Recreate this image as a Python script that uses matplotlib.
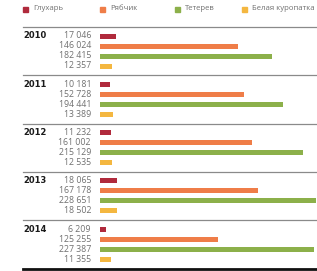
import matplotlib
matplotlib.use("Agg")
import matplotlib.pyplot as plt
from matplotlib.transforms import blended_transform_factory

years = ["2010", "2011", "2012", "2013", "2014"]
series = ["Глухарь", "Рябчик", "Тетерев", "Белая куропатка"]
gluhar = [17046, 10181, 11232, 18065, 6209]
ryabchik = [146024, 152728, 161002, 167178, 125255]
teterev = [182415, 194441, 215129, 228651, 227387]
kuropatka = [12357, 13389, 12535, 18502, 11355]
colors = ["#b02a3c", "#ef7d48", "#8cb04a", "#f4b740"]

values = [gluhar, ryabchik, teterev, kuropatka]

W, H = 317, 271
fig = plt.figure(figsize=(W / 100, H / 100), dpi=100)
ax = fig.add_axes([100 / W, 0, 216 / W, 1])
ax.set_xlim(0, 229000)
ax.set_ylim(H, 0)
ax.axis("off")

top = 27.0
gh = 48.3
tr = blended_transform_factory(fig.transFigure, ax.transData)

def fmt(v):
    return f"{v:,}".replace(",", " ")

for g, yr in enumerate(years):
    y0 = top + gh * g
    ax.plot([23 / W, 316 / W], [y0, y0], transform=tr, color="#8a8a8a",
            lw=0.9, clip_on=False)
    ax.text(23 / W, y0 + 9, yr, transform=tr, fontsize=6, fontweight="bold",
            color="#1a1a1a", va="center", ha="left", family="DejaVu Sans")
    for r in range(4):
        y = y0 + 9 + 10 * r
        v = values[r][g]
        ax.barh(y, v, height=5, color=colors[r], left=0)
        ax.text(91 / W, y, fmt(v), transform=tr, fontsize=6.3, color="#707070",
                va="center", ha="right", family="Open Sans")

yb = top + gh * 5
ax.plot([23 / W, 316 / W], [yb, yb], transform=tr, color="#111111",
        lw=2.0, clip_on=False)

# legend
leg_x = [25, 102, 177, 244]
for i, name in enumerate(series):
    fig.patches.append(plt.Rectangle(((leg_x[i] - 2) / W, 1 - 11.5 / H), 5 / W, 5 / H,
                                     transform=fig.transFigure, color=colors[i]))
    fig.text((leg_x[i] + 8) / W, 1 - 9 / H, name, fontsize=5.6, color="#707070",
             va="center", ha="left", family="Open Sans")

fig.savefig("out.png", dpi=100)
